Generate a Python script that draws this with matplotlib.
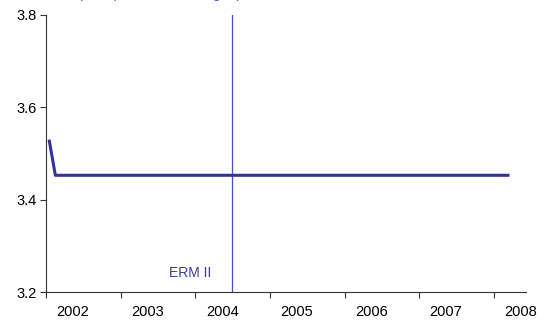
import matplotlib
matplotlib.use('Agg')
import matplotlib.pyplot as plt
import numpy as np

# monthly observations (litas per euro); peg to the euro from Feb 2002
months = ['2002-01', '2002-02', '2008-03']
rate = [3.53, 3.4528, 3.4528]

erm2_entry = 2004.49          # 28 June 2004
erm2_label = 'ERM II'
years = [2002, 2003, 2004, 2005, 2006, 2007, 2008]
yticks = [3.2, 3.4, 3.6, 3.8]
subtitle = '(litas per euro; averages)'


def month_pos(s):
    y, m = s.split('-')
    return int(y) + (int(m) - 0.5) / 12.0


plt.rcParams['font.family'] = ['Liberation Sans', 'DejaVu Sans']

fig = plt.figure(figsize=(5.45, 3.25), dpi=100)
ax = fig.add_axes([46/545, 33/325, 480/545, 277/325])

x = [month_pos(m) for m in months]
ax.plot(x, rate, color='#333399', linewidth=2.2, solid_capstyle='butt', zorder=3)
ax.axvline(erm2_entry, color='#4f4fb0', linewidth=0.9, zorder=2)
ax.text(erm2_entry - 0.28, 3.225, erm2_label, color='#3d3d9e', fontsize=10,
        ha='right', va='bottom')

ax.set_xlim(2002, 2008.43)
ax.set_ylim(3.2, 3.8)

ax.set_yticks(yticks)
ax.set_yticklabels(['%.1f' % v for v in yticks])
ax.set_xticks(years)
ax.set_xticklabels([])
ax.set_xticks([yr + 0.36 for yr in years], minor=True)
ax.set_xticklabels([str(yr) for yr in years], minor=True)

ax.tick_params(axis='both', which='major', direction='out', length=4, width=0.8,
               color='#333333', labelsize=10.5, pad=3)
ax.tick_params(axis='x', which='minor', length=0, labelsize=10.5, pad=9)

for side in ['top', 'right']:
    ax.spines[side].set_visible(False)
for side in ['left', 'bottom']:
    ax.spines[side].set_color('#333333')
    ax.spines[side].set_linewidth(0.8)

# subtitle mostly cut off at the top edge, only descenders visible
fig.text(78/545, 1.0 + 2.0/325, subtitle, color='#5555cc', fontsize=10.5,
         ha='left', va='baseline')

fig.savefig('out.png', dpi=100)
